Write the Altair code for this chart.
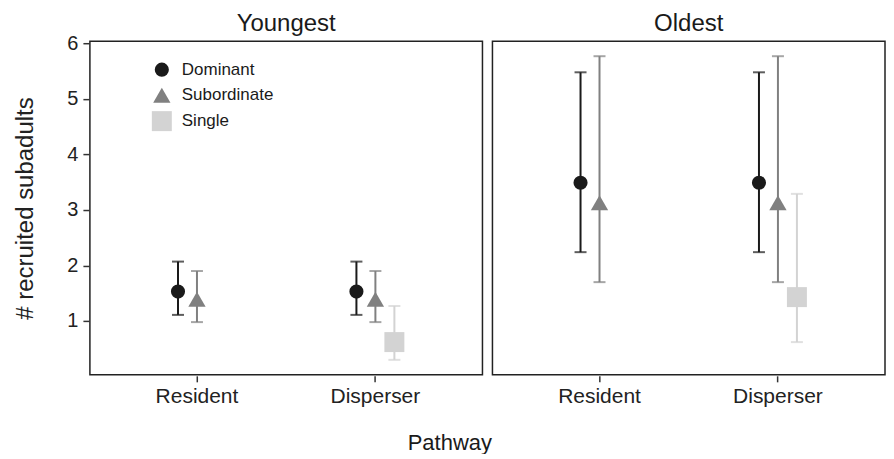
import altair as alt
import pandas as pd

age = ["Youngest"] * 5 + ["Oldest"] * 5
pathway = ["Resident", "Resident", "Disperser", "Disperser", "Disperser"] * 2
status = ["Dominant", "Subordinate", "Dominant", "Subordinate", "Single"] * 2
mean = [1.53, 1.39, 1.53, 1.39, 0.62, 3.49, 3.13, 3.49, 3.13, 1.43]
lower = [1.11, 0.98, 1.11, 0.98, 0.30, 2.24, 1.70, 2.24, 1.70, 0.62]
upper = [2.07, 1.90, 2.07, 1.90, 1.27, 5.48, 5.77, 5.48, 5.77, 3.29]

status_order = ["Dominant", "Subordinate", "Single"]
colors = ["#1a1a1a", "#808080", "#d3d3d3"]
shapes = ["circle", "triangle-up", "square"]
sizes = [200, 400, 250]

df = pd.DataFrame({"age": age, "pathway": pathway, "status": status,
                   "mean": mean, "lower": lower, "upper": upper})

FONT = "Liberation Sans"
W, H = 393, 334
band = W / 2.2
dodge = 19

x_enc = alt.X("pathway:N", sort=["Resident", "Disperser"],
              scale=alt.Scale(paddingInner=0, paddingOuter=0.1),
              axis=alt.Axis(title=None, labelAngle=0, labelFontSize=21, labelPadding=4))
xoff = alt.XOffset("status:N", sort=status_order,
                   scale=alt.Scale(domain=status_order, paddingInner=0, paddingOuter=0,
                                   range=[band / 2 - 1.5 * dodge, band / 2 + 1.5 * dodge]))
y_scale = alt.Scale(domain=[0.03, 6.04], nice=False, zero=False)
col_scale = alt.Color("status:N", sort=status_order,
                      scale=alt.Scale(domain=status_order, range=colors),
                      legend=alt.Legend(title=None, orient="none", legendX=62, legendY=20,
                                        labelFontSize=17, symbolStrokeWidth=0,
                                        symbolOpacity=1, rowPadding=8, labelOffset=10))

base = alt.Chart(df)

rules = base.mark_rule(strokeWidth=2).encode(
    x=x_enc, xOffset=xoff,
    y=alt.Y("lower:Q", scale=y_scale,
            axis=alt.Axis(title="# recruited subadults", values=[1, 2, 3, 4, 5, 6],
                          format="d", labelFontSize=20, titleFontSize=24,
                          labelPadding=5, titlePadding=29)),
    y2="upper:Q",
    color=col_scale,
)
tick_lo = base.mark_tick(size=12, thickness=2).encode(
    x=x_enc, xOffset=xoff, y=alt.Y("lower:Q", scale=y_scale), color=col_scale)
tick_hi = base.mark_tick(size=12, thickness=2).encode(
    x=x_enc, xOffset=xoff, y=alt.Y("upper:Q", scale=y_scale), color=col_scale)
points = base.mark_point(filled=True, opacity=1).encode(
    x=x_enc, xOffset=xoff,
    y=alt.Y("mean:Q", scale=y_scale),
    color=col_scale,
    shape=alt.Shape("status:N", sort=status_order,
                    scale=alt.Scale(domain=status_order, range=shapes)),
    size=alt.Size("status:N", sort=status_order,
                  scale=alt.Scale(domain=status_order, range=sizes)),
)

chart = alt.layer(rules, tick_lo, tick_hi, points).properties(
    width=W, height=H
).facet(
    column=alt.Column("age:N", sort=["Youngest", "Oldest"],
                      header=alt.Header(title=None, labelFontSize=24, labelFont=FONT,
                                        labelColor="#1a1a1a", labelPadding=4))
).properties(
    title=alt.TitleParams("Pathway", orient="bottom", anchor="middle", fontSize=22,
                          font=FONT, fontWeight="normal", color="#1a1a1a", offset=26),
    padding={"left": 5, "top": 4, "right": 0, "bottom": 0},
).configure_facet(
    spacing=8
).configure_view(
    stroke="#222222", strokeWidth=1.5
).configure_axis(
    grid=False, labelFont=FONT, titleFont=FONT,
    labelColor="#222222", titleColor="#222222", titleFontWeight="normal",
    domain=False, tickColor="#333333", tickSize=6, tickWidth=1.5,
).configure_legend(
    labelFont=FONT, labelColor="#1a1a1a"
)

chart.save("out.html", embed_options={"renderer": "svg", "actions": False})
